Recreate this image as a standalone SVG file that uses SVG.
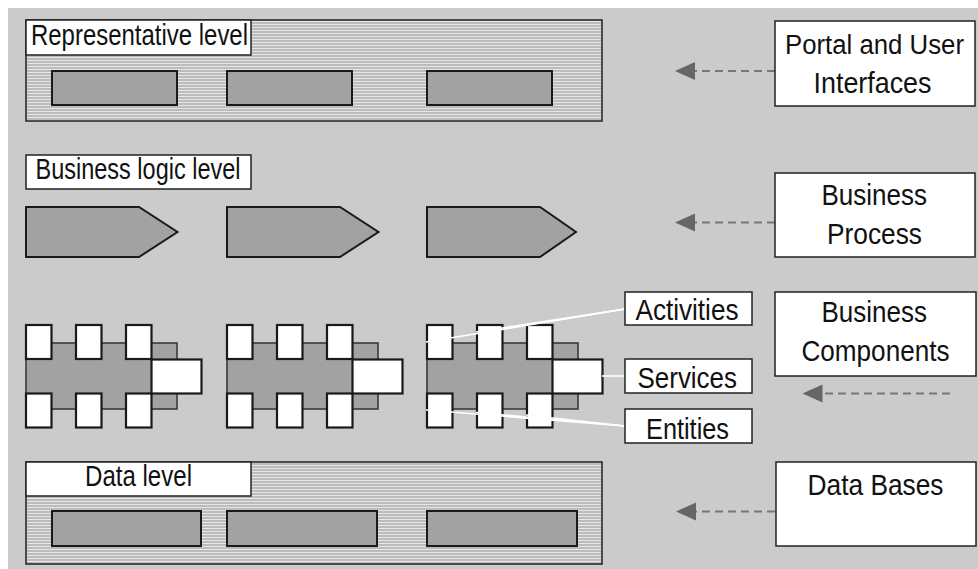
<svg xmlns="http://www.w3.org/2000/svg" width="978" height="569" viewBox="0 0 978 569">
<style>
.t{font-family:"Liberation Sans",Arial,sans-serif;font-size:29px;fill:#111;}
.panel{fill:url(#hatch);stroke:#222;stroke-width:1.5;}
.lbl{fill:#fff;stroke:#222;stroke-width:1.5;}
.inner{fill:#a2a2a2;stroke:#1a1a1a;stroke-width:2;}
.box{fill:#fff;stroke:#1a1a1a;stroke-width:2.2;}
.body{fill:#a2a2a2;stroke:#333;stroke-width:1.5;}
.dash{stroke:#777;stroke-width:2;stroke-dasharray:8 5;fill:none;}
.wl{stroke:#fff;stroke-width:1.6;fill:none;}
</style>
<defs>
<pattern id="hatch" patternUnits="userSpaceOnUse" width="6" height="3">
<rect width="6" height="3" fill="#bcbcbc"/>
<rect width="6" height="1" fill="#e6e6e6"/>
</pattern>
<marker id="ah" markerUnits="userSpaceOnUse" markerWidth="22" markerHeight="20" viewBox="0 -10 22 20" refX="0" refY="0" orient="auto">
<path d="M0,-9 L20,0 L0,9 Z" fill="#666" stroke="none"/>
</marker>
<g id="comp">
<rect class="body" x="0" y="343" width="151" height="66"/>
<rect class="box" x="0" y="325" width="25.5" height="34"/>
<rect class="box" x="50" y="325" width="25.5" height="34"/>
<rect class="box" x="100" y="325" width="25.5" height="34"/>
<rect class="box" x="0" y="393.5" width="25.5" height="34"/>
<rect class="box" x="50" y="393.5" width="25.5" height="34"/>
<rect class="box" x="100" y="393.5" width="25.5" height="34"/>
<rect class="box" x="125.5" y="359.5" width="50" height="34"/>
</g>
</defs>
<rect x="8" y="8" width="970" height="561" fill="#cbcbcb"/>

<g id="representative-level">
<rect class="panel" x="26" y="20" width="576" height="101"/>
<rect class="lbl" x="26" y="20" width="225" height="35"/>
<text class="t" x="31" y="45" textLength="217" lengthAdjust="spacingAndGlyphs">Representative level</text>
<rect class="inner" x="52" y="71" width="125" height="34"/>
<rect class="inner" x="227" y="71" width="125" height="34"/>
<rect class="inner" x="427" y="71" width="125" height="34"/>
</g>

<g id="business-logic-level">
<rect class="lbl" x="26" y="155" width="225" height="34"/>
<text class="t" x="35.5" y="179" textLength="205" lengthAdjust="spacingAndGlyphs">Business logic level</text>
<path class="inner" d="M26,207 H139 L177.5,232 L139,257 H26 Z" stroke-width="1.5"/>
<path class="inner" d="M227,207 H340 L378.5,232 L340,257 H227 Z" stroke-width="1.5"/>
<path class="inner" d="M427,207 H540 L576,232 L540,257 H427 Z" stroke-width="1.5"/>
</g>

<g id="components">
<use href="#comp" x="26" y="0"/>
<use href="#comp" x="227" y="0"/>
<use href="#comp" x="427" y="0"/>
</g>

<g id="data-level">
<rect class="panel" x="26" y="462" width="576" height="102"/>
<rect class="lbl" x="26" y="462" width="225" height="34"/>
<text class="t" x="85" y="486" textLength="107" lengthAdjust="spacingAndGlyphs">Data level</text>
<rect class="inner" x="52" y="511" width="149" height="35"/>
<rect class="inner" x="227" y="511" width="150" height="35"/>
<rect class="inner" x="427" y="511" width="150" height="35"/>
</g>

<g id="connectors">
<line class="dash" x1="775" y1="71" x2="695" y2="71" marker-end="url(#ah)"/>
<line class="dash" x1="775" y1="222.5" x2="695" y2="222.5" marker-end="url(#ah)"/>
<line class="dash" x1="950" y1="393.5" x2="822.5" y2="393.5" marker-end="url(#ah)"/>
<line class="dash" x1="775" y1="511.5" x2="696" y2="511.5" marker-end="url(#ah)"/>
<line class="wl" x1="625" y1="309" x2="426" y2="342"/>
<line class="wl" x1="625" y1="309" x2="476" y2="332"/>
<line class="wl" x1="625" y1="309" x2="526" y2="325"/>
<line class="wl" x1="602" y1="376" x2="625" y2="376"/>
<line class="wl" x1="625" y1="426" x2="426" y2="410"/>
<line class="wl" x1="625" y1="426" x2="476" y2="412.5"/>
<line class="wl" x1="625" y1="426" x2="526" y2="415"/>
</g>

<g id="activities">
<rect class="lbl" x="625" y="292" width="127" height="33"/>
<text class="t" x="635.5" y="319.5" textLength="103" lengthAdjust="spacingAndGlyphs">Activities</text>
</g>
<g id="services">
<rect class="lbl" x="625" y="359" width="127" height="34"/>
<text class="t" x="637.5" y="388" textLength="99.5" lengthAdjust="spacingAndGlyphs">Services</text>
</g>
<g id="entities">
<rect class="lbl" x="625" y="409" width="127" height="34"/>
<text class="t" x="646" y="438.5" textLength="83" lengthAdjust="spacingAndGlyphs">Entities</text>
</g>

<g id="portal-and-user-interfaces">
<rect class="lbl" x="775" y="21" width="200" height="85"/>
<text class="t" x="785" y="53.5" style="font-size:27px" textLength="179" lengthAdjust="spacingAndGlyphs">Portal and User</text>
<text class="t" x="813.5" y="93" textLength="118" lengthAdjust="spacingAndGlyphs">Interfaces</text>
</g>
<g id="business-process">
<rect class="lbl" x="775" y="173" width="200" height="84"/>
<text class="t" x="821.5" y="204.5" textLength="105.5" lengthAdjust="spacingAndGlyphs">Business</text>
<text class="t" x="827" y="244" textLength="95" lengthAdjust="spacingAndGlyphs">Process</text>
</g>
<g id="business-components">
<rect class="lbl" x="775" y="292" width="201" height="84"/>
<text class="t" x="821.5" y="322" textLength="105.5" lengthAdjust="spacingAndGlyphs">Business</text>
<text class="t" x="801.5" y="360.5" textLength="148" lengthAdjust="spacingAndGlyphs">Components</text>
</g>
<g id="data-bases">
<rect class="lbl" x="776" y="462" width="200" height="84"/>
<text class="t" x="807.5" y="494.5" textLength="136" lengthAdjust="spacingAndGlyphs">Data Bases</text>
</g>
</svg>
